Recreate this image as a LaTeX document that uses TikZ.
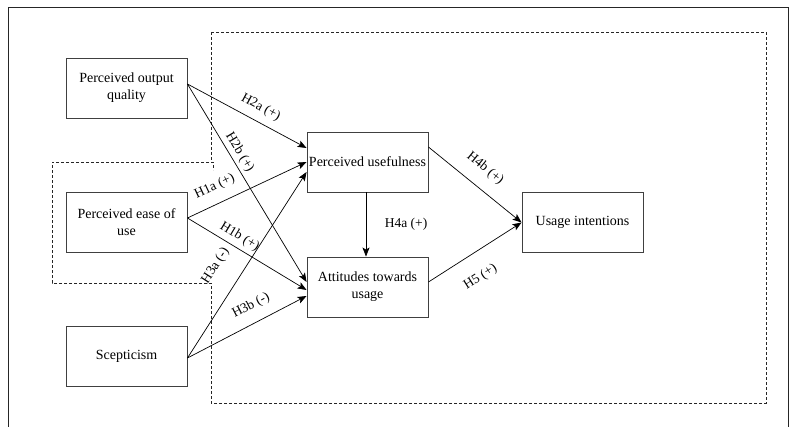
\documentclass[tikz,border=0pt]{standalone}
\usepackage{fontspec}
\setmainfont{Liberation Serif}
\usetikzlibrary{arrows.meta,calc}
\begin{document}
\begin{tikzpicture}[x=1pt,y=-1pt,
  font=\fontsize{14}{17}\selectfont,
  box/.style={draw=black!75,line width=0.9pt,minimum width=121pt,minimum height=60pt,inner sep=0pt,align=center},
  arr/.style={-{Stealth[length=9pt,width=7pt,inset=2pt]},line width=0.7pt},
  lbl/.style={sloped,inner sep=1.5pt,font=\fontsize{13.5}{16}\selectfont},
  region/.style={dash pattern=on 3pt off 2pt,line width=0.8pt,black!85}]
\useasboundingbox (0,0) rectangle (789,427);
% outer frame
\draw[line width=0.9pt,black!85] (8.5,430) -- (8.5,7.5) -- (788,7.5) -- (788,430);
% dashed region
\draw[region] (211,32) -- (766,32) -- (766,403) -- (211,403) -- (211,283) -- (52,283) -- (52,162) -- (213,162) -- (213,170);
\draw[region] (211,32) -- (211,162);
% nodes
\node[box] (poq) at (126.5,88) {Perceived output\\quality};
\node[box] (peu) at (126.5,222.5) {Perceived ease of\\use};
\node[box] (sce) at (126.5,356) {Scepticism};
\node[box] (pu) at (367.5,162) {Perceived usefulness};
\node[box] (atu) at (367.5,287) {Attitudes towards\\usage};
\node[box] (ui) at (582.5,222.5) {Usage intentions};
% edges
\draw[arr] ([yshift=4pt]poq.east) -- node[lbl,pos=0.56,above=6pt] {H2a (+)} ([yshift=14pt]pu.west);
\draw[arr] ([yshift=4pt]poq.east) -- node[lbl,pos=0.37,above=1.5pt] {H2b (+)} ([yshift=5pt]atu.west);
\draw[arr] ([yshift=4.5pt]peu.east) -- node[lbl,pos=0.29,above=9pt] {H1a (+)} (pu.west);
\draw[arr] ([yshift=4.5pt]peu.east) -- node[lbl,pos=0.39,above=3pt] {H1b (+)} ([yshift=-3pt]atu.west);
\draw[arr] ([yshift=-2pt]sce.east) -- node[lbl,pos=0.42,above=18pt] {H3a (-)} ([yshift=-10pt]pu.west);
\draw[arr] ([yshift=-2pt]sce.east) -- node[lbl,pos=0.6,above=9pt] {H3b (-)} ([yshift=-9pt]atu.west);
\draw[arr] ([yshift=15pt]pu.east) -- node[lbl,pos=0.48,above=11pt] {H4b (+)} (ui.west);
\draw[arr] ([yshift=5pt]atu.east) -- node[lbl,pos=0.42,below=16pt] {H5 (+)} (ui.west);
\draw[arr] ([xshift=-1.5pt]pu.south) -- node[midway,right=17pt,inner sep=1.5pt,font=\fontsize{13.5}{16}\selectfont] {H4a (+)} ([xshift=-1.5pt]atu.north);
\end{tikzpicture}
\end{document}
